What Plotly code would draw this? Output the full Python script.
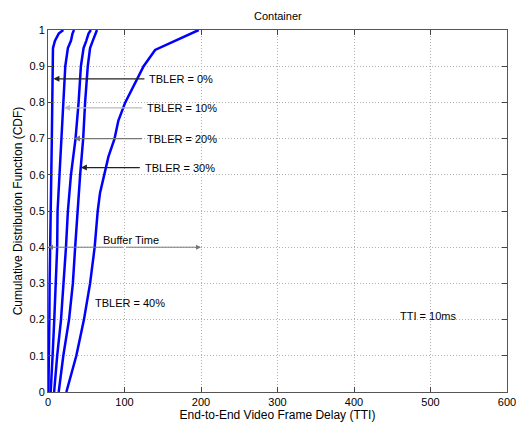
import plotly.graph_objects as go

# CDF levels and delays (TTI)
cdf_levels = [0, 0.05, 0.1, 0.2, 0.3, 0.4, 0.5, 0.6, 0.7, 0.8, 0.9, 0.95, 0.97, 0.99, 1.0]
delay_0 = [0.5, 1, 1.5, 1.8, 2.1, 3, 3.4, 4.3, 5, 5.6, 6.2, 6.5, 9, 14, 20]
delay_10 = [3.5, 5, 6, 8.2, 10, 12, 12.5, 15, 17.5, 19.5, 22.6, 26, 30, 32, 34]
delay_20 = [8, 10, 12, 17, 20.5, 23.5, 26, 30, 36, 40, 43, 46.5, 50, 53, 56]
delay_30 = [14, 17, 20, 27.5, 32.5, 35.5, 38.5, 42, 46, 48.5, 52, 55, 58.5, 62, 64]

cdf_levels_40 = [0, 0.05, 0.1, 0.2, 0.3, 0.4, 0.5, 0.55, 0.6, 0.65, 0.7, 0.75, 0.8, 0.86, 0.9, 0.945, 0.97, 1.0]
delay_40 = [24, 30, 37, 47, 55, 61, 65, 68, 74, 79, 87, 92, 101, 115, 125, 140, 165, 197]

x_ticks = [0, 100, 200, 300, 400, 500, 600]
y_ticks = [0, 0.1, 0.2, 0.3, 0.4, 0.5, 0.6, 0.7, 0.8, 0.9, 1]
y_tick_labels = ["0", "0.1", "0.2", "0.3", "0.4", "0.5", "0.6", "0.7", "0.8", "0.9", "1"]

series = [
    ("TBLER = 0%", delay_0, cdf_levels),
    ("TBLER = 10%", delay_10, cdf_levels),
    ("TBLER = 20%", delay_20, cdf_levels),
    ("TBLER = 30%", delay_30, cdf_levels),
    ("TBLER = 40%", delay_40, cdf_levels_40),
]

fig = go.Figure()
for name, xs, ys in series:
    fig.add_trace(go.Scatter(x=xs, y=ys, mode="lines", name=name,
                             line=dict(color="#0000FF", width=2.5), showlegend=False))

FONT = "Liberation Sans, Arial, sans-serif"

# label annotations: (text, text_x, y, arrow_tip_x, line colour)
labels = [
    ("TBLER = 0%", 130, 0.865, 7, "#222222"),
    ("TBLER = 10%", 127, 0.785, 21, "#bbbbbb"),
    ("TBLER = 20%", 127, 0.70, 34, "#777777"),
    ("TBLER = 30%", 124, 0.62, 43, "#222222"),
]
anns = []
for text, tx, ty, hx, col in labels:
    anns.append(dict(x=hx, y=ty, ax=tx - 2, ay=ty, xref="x", yref="y", axref="x", ayref="y",
                     text="", showarrow=True, arrowhead=2, arrowsize=1, arrowwidth=1.2,
                     arrowcolor=col))
    anns.append(dict(x=tx, y=ty, xref="x", yref="y", text=text, showarrow=False,
                     xanchor="left", yanchor="middle", font=dict(size=11, color="black", family=FONT)))

# Buffer Time double arrow
anns.append(dict(x=0, y=0.4, ax=100, ay=0.4, xref="x", yref="y", axref="x", ayref="y",
                 text="", showarrow=True, arrowhead=2, arrowsize=1, arrowwidth=1,
                 arrowcolor="#777777"))
anns.append(dict(x=200, y=0.4, ax=100, ay=0.4, xref="x", yref="y", axref="x", ayref="y",
                 text="", showarrow=True, arrowhead=2, arrowsize=1, arrowwidth=1,
                 arrowcolor="#777777"))
anns.append(dict(x=108, y=0.42, xref="x", yref="y", text="Buffer Time", showarrow=False,
                 xanchor="center", yanchor="middle", font=dict(size=11, color="black", family=FONT)))
anns.append(dict(x=59, y=0.247, xref="x", yref="y", text="TBLER = 40%", showarrow=False,
                 xanchor="left", yanchor="middle", font=dict(size=11, color="black", family=FONT)))
anns.append(dict(x=458, y=0.21, xref="x", yref="y", text="TTI = 10ms", showarrow=False,
                 xanchor="left", yanchor="middle", font=dict(size=11, color="black", family=FONT)))
# plot title
anns.append(dict(x=0.5, y=1, xref="paper", yref="paper", yshift=14, text="Container",
                 showarrow=False, xanchor="center", yanchor="middle",
                 font=dict(size=11, color="black", family=FONT)))

fig.update_layout(
    width=516, height=422,
    margin=dict(l=48, r=9, t=30, b=30, autoexpand=False),
    paper_bgcolor="white", plot_bgcolor="white",
    font=dict(family=FONT, size=11, color="black"),
    annotations=anns,
)
fig.update_xaxes(range=[0, 600], tickvals=x_ticks, ticks="inside", ticklen=5, tickcolor="#444",
                 showline=True, linecolor="#555", linewidth=1, mirror="ticks", automargin=False,
                 ticklabeloverflow="allow",
                 showgrid=True, gridcolor="#b0b0b0", griddash="1px,2px", gridwidth=1,
                 zeroline=False, tickfont=dict(size=11),
                 title=dict(text="End-to-End Video Frame Delay (TTI)", font=dict(size=12), standoff=2))
fig.update_yaxes(range=[0, 1], tickvals=y_ticks, ticktext=y_tick_labels, ticks="inside", ticklen=5,
                 tickcolor="#444", showline=True, linecolor="#555", linewidth=1, mirror="ticks",
                 automargin=False, ticklabeloverflow="allow",
                 showgrid=True, gridcolor="#b0b0b0", griddash="1px,2px", gridwidth=1,
                 zeroline=False, tickfont=dict(size=11),
                 title=dict(text="Cumulative Distribution Function (CDF)", font=dict(size=12), standoff=4))

# remove the default page margin so the figure fills the 516x422 window exactly
fig.write_html("out.html", config={"displayModeBar": False},
               post_script="document.body.style.margin='0';document.body.style.overflow='hidden';")
